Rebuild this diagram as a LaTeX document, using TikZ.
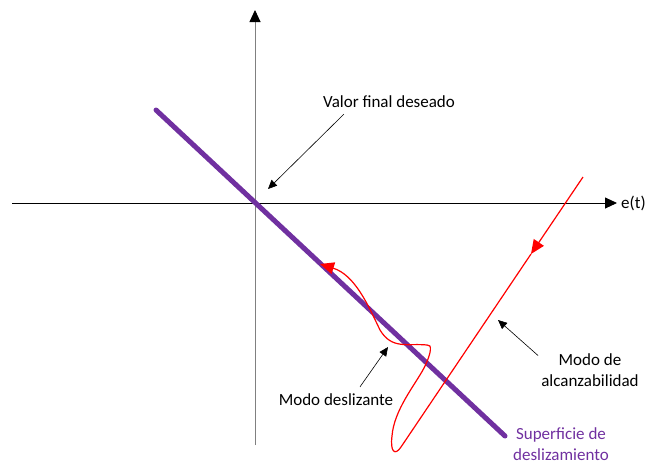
\documentclass[tikz,border=0pt]{standalone}
\usepackage{fontspec}
\setmainfont{Carlito}
\usetikzlibrary{arrows.meta,positioning}
\definecolor{supviolet}{RGB}{112,48,160}

\begin{document}
\begin{tikzpicture}[x=1pt,y=-1pt,
  ax/.style={-{Triangle[length=12pt,width=11pt,black]},line width=0.9pt},
  ann/.style={-{Triangle[length=9pt,width=8pt]},line width=0.6pt},
  lab/.style={font=\fontsize{17}{20.5}\selectfont,align=center,inner sep=1pt},
  tray/.style={red,line width=1.2pt},
  rtip/.style={-{Triangle[length=14pt,width=12pt]}}]
\useasboundingbox (0,0) rectangle (648,464);
% ejes
\coordinate (xl) at (12,203); \coordinate (xr) at (617,203);
\coordinate (yb) at (255,445); \coordinate (yt) at (255,10);
\draw[ax] (xl) -- (xr);
\draw[ax,gray] (yb) -- (yt);
\node[lab,right=3pt of xr] (et) {e(t)};
% superficie
\coordinate (s1) at (156,110); \coordinate (s2) at (505,436);
\draw[supviolet,line width=5pt,line cap=round] (s1) -- (s2);
\node[lab,text=supviolet] (sup) at (561,444) {Superficie de\\deslizamiento};
% trayectoria
\coordinate (r0) at (583,177); \coordinate (rm) at (531,254);
\coordinate (rb) at (401,447); \coordinate (rc) at (427,345);
\coordinate (rf) at (320,264);
\draw[tray,rtip] (r0) -- (rm);
\draw[tray] (rm) -- (rb) .. controls (395,456) and (390,452) .. (392,436)
  .. controls (394,410) and (415,385) .. (424,368)
  .. controls (432,352) and (432,344) .. (rc);
\draw[tray,rtip] (rc) .. controls (408,343) and (392,350) .. (380,330)
  .. controls (368,305) and (355,275) .. (rf);
% etiquetas
\node[lab] (vfd) at (389,102) {Valor final deseado};
\coordinate (vfdp) at (268,189);
\draw[ann] ([xshift=22pt,yshift=-5pt]vfd.south west) -- (vfdp);
\node[lab] (mdes) at (336,400) {Modo deslizante};
\coordinate (mdesp) at (388,347);
\draw[ann] ([xshift=24pt,yshift=6pt]mdes.north) -- (mdesp);
\node[lab] (malc) at (590,370) {Modo de\\alcanzabilidad};
\coordinate (malcp) at (498,320);
\draw[ann] ([xshift=-2pt,yshift=-3pt]malc.north west) -- (malcp);
\end{tikzpicture}
\end{document}
